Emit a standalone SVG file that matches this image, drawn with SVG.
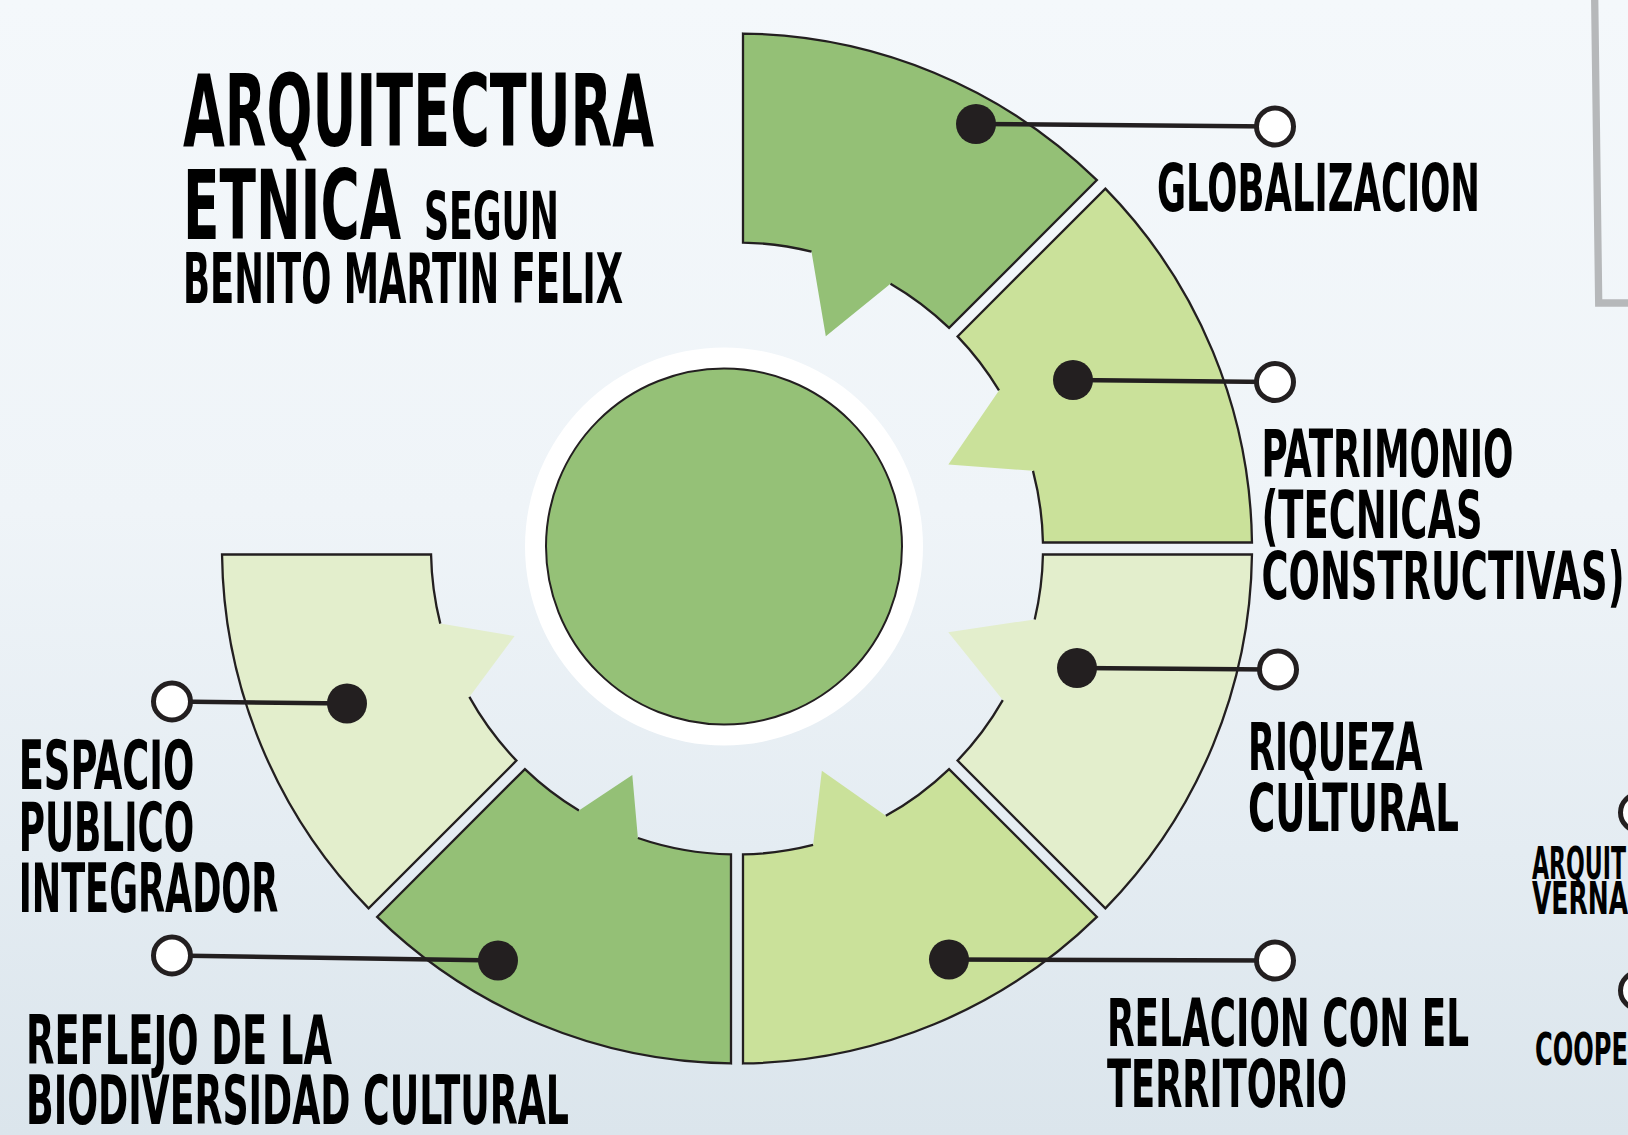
<svg xmlns="http://www.w3.org/2000/svg" width="1628" height="1135" viewBox="0 0 1628 1135">
<defs>
<linearGradient id="bg" x1="0" y1="0" x2="0" y2="1">
<stop offset="0" stop-color="#f4f8fb"/>
<stop offset="0.45" stop-color="#eff4f8"/>
<stop offset="0.75" stop-color="#e4ecf2"/>
<stop offset="1" stop-color="#dbe5ec"/>
</linearGradient>
<style>
.dark{fill:#94c076}
.mid{fill:#cae19a}
.pale{fill:#e3eecc}
.edge{fill:none;stroke:#231f20;stroke-width:2.3;stroke-linejoin:miter}
.lbl{font-family:"Liberation Sans Narrow","DejaVu Sans Condensed","Liberation Sans",sans-serif;font-weight:bold;fill:#000}
.ln{stroke:#231f20;stroke-width:4.5;fill:none}
.dot{fill:#231f20}
.ring{fill:#fff;stroke:#231f20;stroke-width:5}
</style>
</defs>
<rect x="0" y="0" width="1628" height="1135" fill="url(#bg)"/>
<path d="M1594.7,0 L1598.7,303 L1635,303" fill="none" stroke="#b6b8ba" stroke-width="7.3"/>

<g id="center">
<circle cx="724" cy="546.5" r="199" fill="#ffffff"/>
<circle cx="724" cy="546.5" r="178" fill="#95c177" stroke="#231f20" stroke-width="2"/>
</g>

<g id="seg-globalizacion" transform="translate(737 548.5) rotate(0)">
<path class="dark" d="M6,-514.97 A515,515 0 0 1 359.89,-368.38 L212.09,-220.57 A306,306 0 0 0 153.5,-264.8 L88.8,-212.2 L74.5,-296.8 A306,306 0 0 0 6,-305.94 Z"/>
<path class="edge" d="M74.5,-296.8 A306,306 0 0 0 6,-305.94 L6,-514.97 A515,515 0 0 1 359.89,-368.38 L212.09,-220.57 A306,306 0 0 0 153.5,-264.8"/>
</g>
<g id="seg-patrimonio" transform="translate(737 548.5) rotate(45)">
<path class="mid" d="M6,-514.97 A515,515 0 0 1 359.89,-368.38 L212.09,-220.57 A306,306 0 0 0 154.4,-264.2 L90,-208.9 L73.5,-297 A306,306 0 0 0 6,-305.94 Z"/>
<path class="edge" d="M73.5,-297 A306,306 0 0 0 6,-305.94 L6,-514.97 A515,515 0 0 1 359.89,-368.38 L212.09,-220.57 A306,306 0 0 0 154.4,-264.2"/>
</g>
<g id="seg-riqueza" transform="translate(737 548.5) rotate(90)">
<path class="pale" d="M6,-514.97 A515,515 0 0 1 359.89,-368.38 L212.09,-220.57 A306,306 0 0 0 151.6,-265.8 L83.7,-211.3 L70.9,-297.7 A306,306 0 0 0 6,-305.94 Z"/>
<path class="edge" d="M70.9,-297.7 A306,306 0 0 0 6,-305.94 L6,-514.97 A515,515 0 0 1 359.89,-368.38 L212.09,-220.57 A306,306 0 0 0 151.6,-265.8"/>
</g>
<g id="seg-relacion" transform="translate(737 548.5) rotate(135)">
<path class="mid" d="M6,-514.97 A515,515 0 0 1 359.89,-368.38 L212.09,-220.57 A306,306 0 0 0 155.8,-263.4 L97.1,-217.1 L83.8,-294.3 A306,306 0 0 0 6,-305.94 Z"/>
<path class="edge" d="M83.8,-294.3 A306,306 0 0 0 6,-305.94 L6,-514.97 A515,515 0 0 1 359.89,-368.38 L212.09,-220.57 A306,306 0 0 0 155.8,-263.4"/>
</g>
<g id="seg-reflejo" transform="translate(737 548.5) rotate(180)">
<path class="dark" d="M6,-514.97 A515,515 0 0 1 359.89,-368.38 L212.09,-220.57 A306,306 0 0 0 158.1,-262 L104.7,-226.5 L99.1,-289.5 A306,306 0 0 0 6,-305.94 Z"/>
<path class="edge" d="M99.1,-289.5 A306,306 0 0 0 6,-305.94 L6,-514.97 A515,515 0 0 1 359.89,-368.38 L212.09,-220.57 A306,306 0 0 0 158.1,-262"/>
</g>
<g id="seg-espacio" transform="translate(737 548.5) rotate(225)">
<path class="pale" d="M6,-514.97 A515,515 0 0 1 359.89,-368.38 L212.09,-220.57 A306,306 0 0 0 156.7,-262.9 L95.3,-219.2 L84.3,-294.2 A306,306 0 0 0 6,-305.94 Z"/>
<path class="edge" d="M84.3,-294.2 A306,306 0 0 0 6,-305.94 L6,-514.97 A515,515 0 0 1 359.89,-368.38 L212.09,-220.57 A306,306 0 0 0 156.7,-262.9"/>
</g>

<g id="connectors">
<line class="ln" x1="976" y1="124" x2="1275" y2="126.5"/>
<circle class="dot" cx="976" cy="124" r="20"/>
<circle class="ring" cx="1275" cy="126.5" r="18.5"/>
<line class="ln" x1="1073" y1="380" x2="1275" y2="382"/>
<circle class="dot" cx="1073" cy="380" r="20"/>
<circle class="ring" cx="1275" cy="382" r="18.5"/>
<line class="ln" x1="1077" y1="668" x2="1278" y2="669.5"/>
<circle class="dot" cx="1077" cy="668" r="20"/>
<circle class="ring" cx="1278" cy="669.5" r="18.5"/>
<line class="ln" x1="949" y1="959.5" x2="1275" y2="960.5"/>
<circle class="dot" cx="949" cy="959.5" r="20"/>
<circle class="ring" cx="1275" cy="960.5" r="18.5"/>
<line class="ln" x1="172" y1="701.5" x2="347" y2="703.5"/>
<circle class="dot" cx="347" cy="703.5" r="20"/>
<circle class="ring" cx="172" cy="701.5" r="18.5"/>
<line class="ln" x1="172" y1="955.5" x2="498" y2="960.5"/>
<circle class="dot" cx="498" cy="960.5" r="20"/>
<circle class="ring" cx="172" cy="955.5" r="18.5"/>
<circle class="ring" cx="1639" cy="812.5" r="18.5"/>
<circle class="ring" cx="1639" cy="990.5" r="18.5"/>
</g>

<g id="title">
<text class="lbl" x="183" y="145.5" font-size="99" textLength="471" lengthAdjust="spacingAndGlyphs">ARQUITECTURA</text>
<text class="lbl" x="183" y="238.5" font-size="97" textLength="218" lengthAdjust="spacingAndGlyphs">ETNICA</text>
<text class="lbl" x="424" y="239" font-size="65" textLength="135" lengthAdjust="spacingAndGlyphs">SEGUN</text>
<text class="lbl" x="183" y="303" font-size="69" textLength="440" lengthAdjust="spacingAndGlyphs">BENITO MARTIN FELIX</text>
</g>

<g id="label-globalizacion">
<text class="lbl" x="1157" y="211" font-size="65" textLength="323" lengthAdjust="spacingAndGlyphs">GLOBALIZACION</text>
</g>
<g id="label-patrimonio">
<text class="lbl" x="1261.5" y="477" font-size="66" textLength="252" lengthAdjust="spacingAndGlyphs">PATRIMONIO</text>
<text class="lbl" x="1261.5" y="538" font-size="66" textLength="221" lengthAdjust="spacingAndGlyphs">(TECNICAS</text>
<text class="lbl" x="1261.5" y="599" font-size="66" textLength="363" lengthAdjust="spacingAndGlyphs">CONSTRUCTIVAS)</text>
</g>
<g id="label-riqueza">
<text class="lbl" x="1248" y="769.5" font-size="66" textLength="174.5" lengthAdjust="spacingAndGlyphs">RIQUEZA</text>
<text class="lbl" x="1248" y="831" font-size="66" textLength="211" lengthAdjust="spacingAndGlyphs">CULTURAL</text>
</g>
<g id="label-relacion">
<text class="lbl" x="1107" y="1046" font-size="66" textLength="362" lengthAdjust="spacingAndGlyphs">RELACION CON EL</text>
<text class="lbl" x="1107" y="1107" font-size="66" textLength="240" lengthAdjust="spacingAndGlyphs">TERRITORIO</text>
</g>
<g id="label-espacio">
<text class="lbl" x="18.7" y="789" font-size="67" textLength="175.5" lengthAdjust="spacingAndGlyphs">ESPACIO</text>
<text class="lbl" x="18.7" y="851" font-size="67" textLength="175.5" lengthAdjust="spacingAndGlyphs">PUBLICO</text>
<text class="lbl" x="18.7" y="912" font-size="67" textLength="259.6" lengthAdjust="spacingAndGlyphs">INTEGRADOR</text>
</g>
<g id="label-reflejo">
<text class="lbl" x="26" y="1064" font-size="67" textLength="306" lengthAdjust="spacingAndGlyphs">REFLEJO DE LA</text>
<text class="lbl" x="26" y="1124" font-size="67" textLength="543" lengthAdjust="spacingAndGlyphs">BIODIVERSIDAD CULTURAL</text>
</g>
<g id="label-edge">
<text class="lbl" x="1532" y="879" font-size="45" textLength="94" lengthAdjust="spacingAndGlyphs">ARQUIT</text>
<text class="lbl" x="1532" y="914" font-size="45" textLength="96" lengthAdjust="spacingAndGlyphs">VERNA</text>
<text class="lbl" x="1535" y="1065" font-size="45" textLength="93" lengthAdjust="spacingAndGlyphs">COOPE</text>
</g>
</svg>
